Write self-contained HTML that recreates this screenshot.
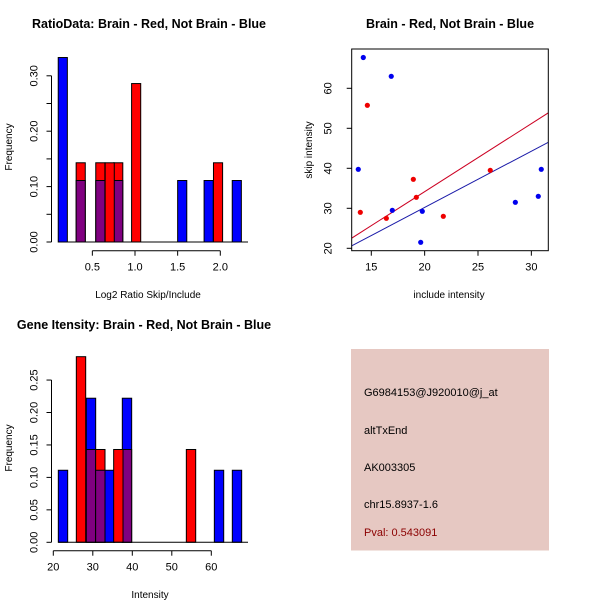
<!DOCTYPE html>
<html><head><meta charset="utf-8"><style>
html,body{margin:0;padding:0;background:#fff;}
svg{display:block;font-family:"Liberation Sans",sans-serif;}
</style></head><body>
<svg id="c" width="600" height="600" viewBox="0 0 600 600"></svg>
<script>
// ---- Panel 1: RatioData histogram ----
const ratioBlueStarts = [0.10, 0.31, 0.54, 0.75, 1.50, 1.81, 2.14];
const ratioBlueFreq = [0.333, 0.111, 0.111, 0.111, 0.111, 0.111, 0.111];
const ratioRedStarts = [0.31, 0.54, 0.65, 0.75, 0.96, 1.92];
const ratioRedFreq = [0.143, 0.143, 0.143, 0.143, 0.286, 0.143];
const ratioXTicks = [0.5, 1.0, 1.5, 2.0];
const ratioXTickLabels = ["0.5", "1.0", "1.5", "2.0"];
const ratioYTicks = [0, 0.05, 0.10, 0.15, 0.20, 0.25, 0.30];
const ratioYTickLabels = ["0.00", "", "0.10", "", "0.20", "", "0.30"];
// ---- Panel 2: scatter ----
const blueIncl = [14.25, 16.87, 13.78, 16.97, 19.78, 19.63, 28.5, 30.65, 30.93];
const blueSkip = [67.7, 63.0, 39.75, 29.5, 29.25, 21.5, 31.5, 33.0, 39.75];
const redIncl = [14.63, 13.97, 16.41, 18.94, 19.22, 21.75, 26.15];
const redSkip = [55.75, 29.0, 27.5, 37.25, 32.75, 28.0, 39.5];
const redFit = [0.16, 1.70];
const blueFit = [2.12, 1.405];
const scatXTicks = [15, 20, 25, 30];
const scatYTicks = [20, 30, 40, 50, 60];
// ---- Panel 3: Gene intensity ----
const intBlueStarts = [21.27, 28.36, 30.72, 33.09, 37.47, 60.77, 65.32];
const intBlueFreq = [0.111, 0.222, 0.111, 0.111, 0.222, 0.111, 0.111];
const intRedStarts = [25.83, 28.36, 30.72, 35.28, 37.47, 53.68];
const intRedFreq = [0.286, 0.143, 0.143, 0.143, 0.143, 0.143];
const intXTicks = [20, 30, 40, 50, 60];
const intYTicks = [0, 0.05, 0.10, 0.15, 0.20, 0.25];
const intYTickLabels = ["0.00", "0.05", "0.10", "0.15", "0.20", "0.25"];

const svg = document.getElementById('c');
const NS = 'http://www.w3.org/2000/svg';
function mk(tag, attrs, parent) {
  const e = document.createElementNS(NS, tag);
  for (const k in attrs) e.setAttribute(k, attrs[k]);
  (parent || svg).appendChild(e);
  return e;
}
function txt(x, y, s, size, anchor, rot, weight, fill) {
  const t = mk('text', {x: x, y: y, 'font-size': size, 'text-anchor': anchor || 'middle', fill: fill || '#000'});
  if (weight) t.setAttribute('font-weight', weight);
  if (rot) t.setAttribute('transform', 'rotate(-90 ' + x + ' ' + y + ')');
  t.textContent = s;
  return t;
}

function histogram(o) {
  const g = mk('g', {});
  
  
  const X = v => o.x0 + (v - o.xv0) * o.xs;
  const Y = v => o.base - v * o.ys;
  const bins = {};
  o.bs.forEach((s, i) => { const k = s.toFixed(2); bins[k] = bins[k] || {s: s, b: 0, r: 0}; bins[k].b = o.bf[i]; });
  o.rs.forEach((s, i) => { const k = s.toFixed(2); bins[k] = bins[k] || {s: s, b: 0, r: 0}; bins[k].r = o.rf[i]; });
  Object.values(bins).forEach(bn => {
    const x1 = X(bn.s), x2 = X(bn.s + o.w);
    const top = Math.max(bn.b, bn.r), mn = Math.min(bn.b, bn.r);
    const col = bn.b >= bn.r ? '#0000ff' : '#ff0000';
    const r = mk('rect', {x: x1, y: Y(top), width: x2 - x1, height: Y(0) - Y(top), fill: col, stroke: '#000', 'stroke-width': 1}, g);
    
    
    if (mn > 0) {
      const p = mk('rect', {x: x1, y: Y(mn), width: x2 - x1, height: Y(0) - Y(mn), fill: '#800080', stroke: '#000', 'stroke-width': 1}, g);
      
      
    }
  });
  mk('line', {x1: o.x0 + (o.baseFrom - o.xv0) * o.xs, x2: o.baseTo, y1: o.base, y2: o.base, stroke: '#000'}, g);
  const ya = mk('g', {}, g);
  
  
  const yt = o.yt;
  mk('line', {x1: o.yax, x2: o.yax, y1: Y(yt[0]), y2: Y(yt[yt.length - 1]), stroke: '#000'}, ya);
  yt.forEach((v, i) => {
    mk('line', {x1: o.yax - 5, x2: o.yax, y1: Y(v), y2: Y(v), stroke: '#000'}, ya);
    if (o.ytl[i]) txt(o.yax - 14, Y(v), o.ytl[i], 11, 'middle', true);
  });
  const xa = mk('g', {}, g);
  
  
  const xt = o.xt;
  mk('line', {x1: X(xt[0]), x2: X(xt[xt.length - 1]), y1: o.xay, y2: o.xay, stroke: '#000'}, xa);
  xt.forEach((v, i) => {
    mk('line', {x1: X(v), x2: X(v), y1: o.xay, y2: o.xay + 5, stroke: '#000'}, xa);
    txt(X(v), o.xay + 20, o.xtl[i], 11);
  });
  txt(o.titleX, o.titleY, o.title, 12.5, 'middle', false, 'bold');
  txt(o.xlX, o.xlY, o.xlab, 10);
  txt(12, o.ylY, 'Frequency', 10, 'middle', true);
}

histogram({name: 'ratio-histogram', x0: 49.7, xv0: 0, xs: 85.3, base: 242, ys: 554, w: 0.107,
  bs: ratioBlueStarts, bf: ratioBlueFreq, rs: ratioRedStarts, rf: ratioRedFreq,
  baseFrom: 0.10, baseTo: 248, yax: 51.5, yt: ratioYTicks, ytl: ratioYTickLabels,
  xt: ratioXTicks, xtl: ratioXTickLabels, xay: 250.7,
  title: 'RatioData: Brain - Red, Not Brain - Blue', titleX: 149, titleY: 28,
  xlab: 'Log2 Ratio Skip/Include', xlX: 148, xlY: 298, ylY: 147});

histogram({name: 'intensity-histogram', x0: 53.3, xv0: 20, xs: 3.95, base: 542.3, ys: 649, w: 2.37,
  bs: intBlueStarts, bf: intBlueFreq, rs: intRedStarts, rf: intRedFreq,
  baseFrom: 21.27, baseTo: 248, yax: 51.5, yt: intYTicks, ytl: intYTickLabels,
  xt: intXTicks, xtl: intXTicks.map(String), xay: 550.7,
  title: 'Gene Itensity: Brain - Red, Not Brain - Blue', titleX: 144, titleY: 329,
  xlab: 'Intensity', xlX: 150, xlY: 598, ylY: 448});

(function () {
  const g = mk('g', {});
  
  
  const X = v => 371.3 + (v - 15) * 10.67;
  const Y = v => 248.3 - (v - 20) * 4;
  const L = 351.7, R = 548.3, T = 49, B = 250.7;
  const xmin = 15 + (L - 371.3) / 10.67, xmax = 15 + (R - 371.3) / 10.67;
  const cp = mk('clipPath', {id: 'sc'}, g);
  mk('rect', {x: L, y: T, width: R - L, height: B - T}, cp);
  const lines = mk('g', {'clip-path': 'url(#sc)'}, g);
  [[redFit, '#cc0022', 'red-fit-line'], [blueFit, '#1a1aa8', 'blue-fit-line']].forEach(f => {
    const l = mk('line', {x1: X(xmin), y1: Y(f[0][0] + f[0][1] * xmin), x2: X(xmax), y2: Y(f[0][0] + f[0][1] * xmax), stroke: f[1], 'stroke-width': 1}, lines);
    
    
  });
  blueIncl.forEach((v, i) => {
    const c = mk('circle', {cx: X(v), cy: Y(blueSkip[i]), r: 2.6, fill: '#0000ee'}, g);
    
    
  });
  redIncl.forEach((v, i) => {
    const c = mk('circle', {cx: X(v), cy: Y(redSkip[i]), r: 2.6, fill: '#ee0000'}, g);
    
    
  });
  mk('rect', {x: L, y: T, width: R - L, height: B - T, fill: 'none', stroke: '#000'}, g);
  scatXTicks.forEach(v => {
    mk('line', {x1: X(v), x2: X(v), y1: B, y2: B + 5, stroke: '#000'}, g);
    txt(X(v), B + 20, String(v), 11);
  });
  scatYTicks.forEach(v => {
    mk('line', {x1: L - 5, x2: L, y1: Y(v), y2: Y(v), stroke: '#000'}, g);
    txt(L - 20, Y(v), String(v), 11, 'middle', true);
  });
  txt(450, 28, 'Brain - Red, Not Brain - Blue', 12.5, 'middle', false, 'bold');
  txt(449, 298, 'include intensity', 10);
  txt(312, 150, 'skip intensity', 10, 'middle', true);
})();

(function () {
  const g = mk('g', {});
  
  
  mk('rect', {x: 351, y: 349, width: 198, height: 201.5, fill: '#e6c8c2'}, g);
  const lines = [['G6984153@J920010@j_at', 396, '#000', 'probe-id'], ['altTxEnd', 434, '#000', 'event-type'],
    ['AK003305', 471, '#000', 'accession'], ['chr15.8937-1.6', 508, '#000', 'location'], ['Pval: 0.543091', 536, '#8b0000', 'p-value']];
  lines.forEach(l => {
    const t = txt(364, l[1], l[0], 11, 'start', false, null, l[2]);
    
    
    g.appendChild(t);
  });
})();
</script>
</body></html>
